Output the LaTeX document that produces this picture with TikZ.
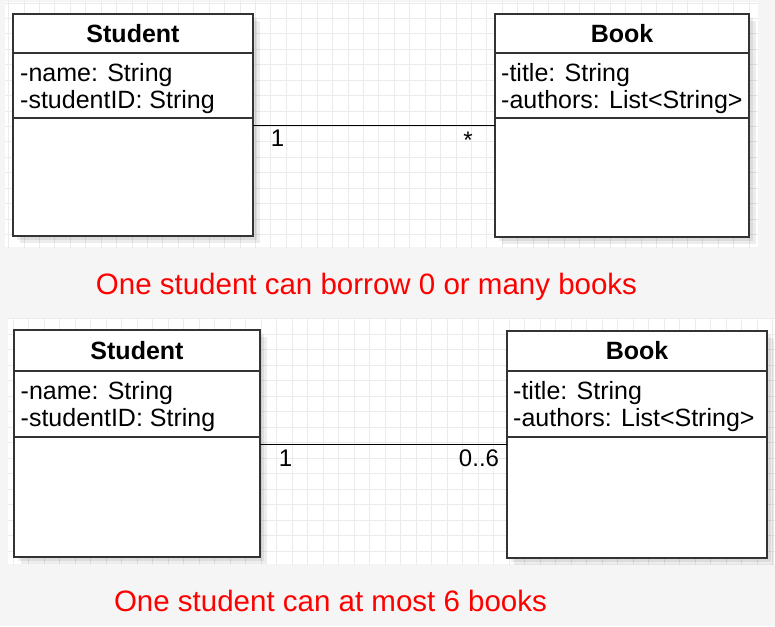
\documentclass[tikz,border=0pt]{standalone}
\usepackage{fontspec}
\setmainfont{Liberation Sans}
\usetikzlibrary{backgrounds}
\definecolor{bgout}{HTML}{F5F5F5}
\definecolor{gridc}{HTML}{EBEBEB}
\definecolor{boxc}{HTML}{333333}
\definecolor{redtxt}{HTML}{FF0000}
\begin{document}
\begin{tikzpicture}[x=1pt,y=-1pt,
  cls/.style={draw=boxc, line width=1.2pt, fill=white, inner sep=0pt, outer sep=0pt, anchor=north west},
  hdr/.style={cls, font=\fontsize{25}{27}\selectfont\bfseries},
  attrtxt/.style={inner sep=0pt, anchor=west, align=left, font=\fontsize{25}{27}\selectfont},
  lbl/.style={inner sep=0pt, anchor=base, font=\fontsize{24}{26}\selectfont},
  note/.style={inner sep=0pt, anchor=base, text=redtxt, font=\fontsize{29.5}{32}\selectfont},
  assoc/.style={draw=black, line width=0.9pt},
  gridline/.style={draw=gridc, line width=0.6pt},
  shadowbox/.style={fill=black, fill opacity=0.07, draw=none}
]
\useasboundingbox (0,0) rectangle (775,626);

% ---------- top diagram ----------
\node[hdr, minimum width=240pt, minimum height=39pt] (s1h) at (13,14) {Student};
\node[cls, minimum width=240pt, minimum height=65pt] (s1a) at (s1h.south west) {};
\node[cls, minimum width=240pt, minimum height=118pt] (s1m) at (s1a.south west) {};
\node[attrtxt] (s1t) at ([xshift=7pt,yshift=-3pt]s1a.west) {-name: String\\-studentID: String};

\node[hdr, minimum width=254pt, minimum height=39pt] (b1h) at (495,14) {Book};
\node[cls, minimum width=254pt, minimum height=65pt] (b1a) at (b1h.south west) {};
\node[cls, minimum width=254pt, minimum height=119pt] (b1m) at (b1a.south west) {};
\node[attrtxt] (b1t) at ([xshift=6pt,yshift=-3pt]b1a.west) {-title: String\\-authors: List<String>};

\draw[assoc] ([yshift=-7pt]s1m.north east) -- ([yshift=-7pt]b1m.north west);
\node[lbl] (m1a) at (277.5,146) {1};
\node[lbl] (m1b) at (468,148) {*};

\node[note] (n1) at (366.5,294) {One student can borrow 0 or many books};

% ---------- bottom diagram ----------
\node[hdr, minimum width=246pt, minimum height=41pt] (s2h) at (14,330) {Student};
\node[cls, minimum width=246pt, minimum height=66pt] (s2a) at (s2h.south west) {};
\node[cls, minimum width=246pt, minimum height=120pt] (s2m) at (s2a.south west) {};
\node[attrtxt] (s2t) at ([xshift=6.5pt,yshift=-2.5pt]s2a.west) {-name: String\\-studentID: String};

\node[hdr, minimum width=260pt, minimum height=40pt] (b2h) at (507,331) {Book};
\node[cls, minimum width=260pt, minimum height=66pt] (b2a) at (b2h.south west) {};
\node[cls, minimum width=260pt, minimum height=121pt] (b2m) at (b2a.south west) {};
\node[attrtxt] (b2t) at ([xshift=6pt,yshift=-2.5pt]b2a.west) {-title: String\\-authors: List<String>};

\draw[assoc] ([yshift=-7pt]s2m.north east) -- ([yshift=-7pt]b2m.north west);
\node[lbl] (m2a) at (285.5,466) {1};
\node[lbl] (m2b) at (479,466) {0..6};

\node[note] (n2) at (330.5,611) {One student can at most 6 books};

% ---------- backgrounds ----------
\begin{scope}[on background layer]
  \fill[bgout] (0,0) rectangle (775,626);
  \fill[white] (5,2) rectangle (758,247);
  \fill[white] (8,318) rectangle (775,564);
  \begin{scope}
    \clip (5,2) rectangle (758,247);
    \foreach \i in {0,...,49} \draw[gridline] ({8.4+15.43*\i},0) -- ({8.4+15.43*\i},250);
    \foreach \j in {0,...,16} \draw[gridline] (0,{2.9+15.43*\j}) -- (775,{2.9+15.43*\j});
  \end{scope}
  \begin{scope}
    \clip (8,318) rectangle (775,564);
    \foreach \i in {0,...,50} \draw[gridline] ({13.2+15.5*\i},315) -- ({13.2+15.5*\i},570);
    \foreach \j in {0,...,16} \draw[gridline] (0,{318.3+15.5*\j}) -- (775,{318.3+15.5*\j});
  \end{scope}
  \foreach \h/\m in {s1h/s1m,b1h/b1m,s2h/s2m,b2h/b2m} {
    \fill[shadowbox] ([shift={(4pt,-4pt)}]\h.north west) rectangle ([shift={(4pt,-4pt)}]\m.south east);
    \fill[shadowbox] ([shift={(7pt,-7pt)}]\h.north west) rectangle ([shift={(7pt,-7pt)}]\m.south east);
  }
\end{scope}
\end{tikzpicture}
\end{document}
